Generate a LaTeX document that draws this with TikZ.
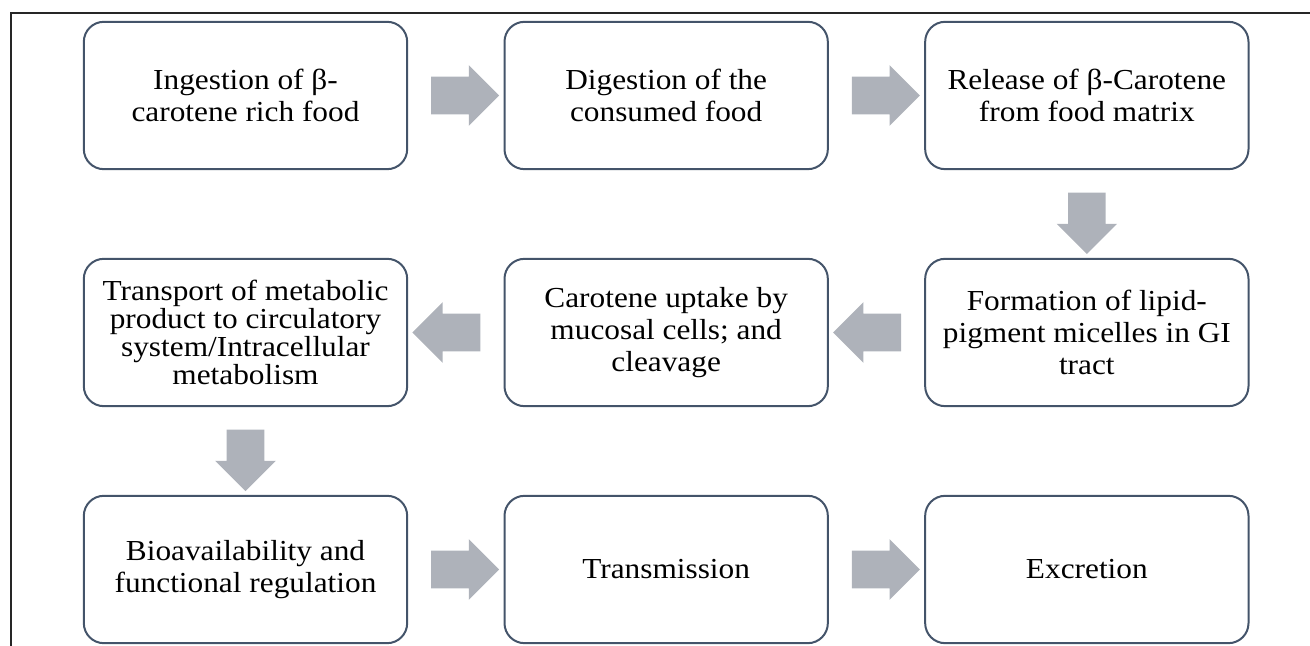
\documentclass[tikz,border=0pt]{standalone}
\usepackage{fontspec}
\setmainfont[FakeStretch=1.08]{Liberation Serif}
\usetikzlibrary{positioning,shapes.arrows,calc}
\definecolor{boxline}{RGB}{68,84,106}
\definecolor{arrowgray}{RGB}{174,178,186}
\tikzset{
	stepbox/.style={draw=boxline, line width=1.5pt, rounded corners=15pt,
		minimum width=242.5pt, minimum height=110.5pt, align=center, inner sep=2pt,
		font=\fontsize{21.75}{23.5}\selectfont},
	blockarrow/.style={single arrow, fill=arrowgray, draw=none, inner xsep=0pt,
		inner ysep=13.9pt, single arrow head extend=8.6pt, minimum width=0pt,
		minimum height=51pt},
	frame/.style={line width=1.5pt, draw=black!85},
}

\begin{document}
\begin{tikzpicture}[x=0.75pt,y=0.75pt, node distance=65.75pt and 71.5pt]
	\useasboundingbox (0,0) rectangle (1310,646);
	\draw[frame] (1310,633) -- (11,633) -- (11,0);

	% first row
	\node[stepbox] (ingest) at (245.5,550.5) {Ingestion of β-\\carotene rich food};
	\node[stepbox, right=of ingest] (digest) {Digestion of the\\consumed food};
	\node[stepbox, right=of digest] (release) {Release of β-Carotene\\from food matrix};

	% second row
	\node[stepbox, below=of release, font=\fontsize{21.75}{24}\selectfont] (micelle) {Formation of lipid-\\pigment micelles in GI\\tract};
	\node[stepbox, left=of micelle, font=\fontsize{21.75}{24}\selectfont] (uptake) {Carotene uptake by\\mucosal cells; and\\cleavage};
	\node[stepbox, left=of uptake, font=\fontsize{21.75}{20.8}\selectfont] (transport) {Transport of metabolic\\product to circulatory\\system/Intracellular\\metabolism};

	% third row
	\node[stepbox, below=of transport] (bioavail) {Bioavailability and\\functional regulation};
	\node[stepbox, right=of bioavail] (transmit) {Transmission};
	\node[stepbox, right=of transmit] (excrete) {Excretion};

	% block arrows
	\node[blockarrow] (ar1) at ($(ingest.east)!0.5!(digest.west)$) {};
	\node[blockarrow] (ar2) at ($(digest.east)!0.5!(release.west)$) {};
	\node[blockarrow, rotate=-90, minimum height=46pt] (ar3) at ($(release.south)!0.5!(micelle.north)$) {};
	\node[blockarrow, rotate=180] (ar4) at ($(micelle.west)!0.5!(uptake.east)$) {};
	\node[blockarrow, rotate=180] (ar5) at ($(uptake.west)!0.5!(transport.east)$) {};
	\node[blockarrow, rotate=-90, minimum height=46pt] (ar6) at ($(transport.south)!0.5!(bioavail.north)$) {};
	\node[blockarrow] (ar7) at ($(bioavail.east)!0.5!(transmit.west)$) {};
	\node[blockarrow] (ar8) at ($(transmit.east)!0.5!(excrete.west)$) {};
\end{tikzpicture}
\end{document}
